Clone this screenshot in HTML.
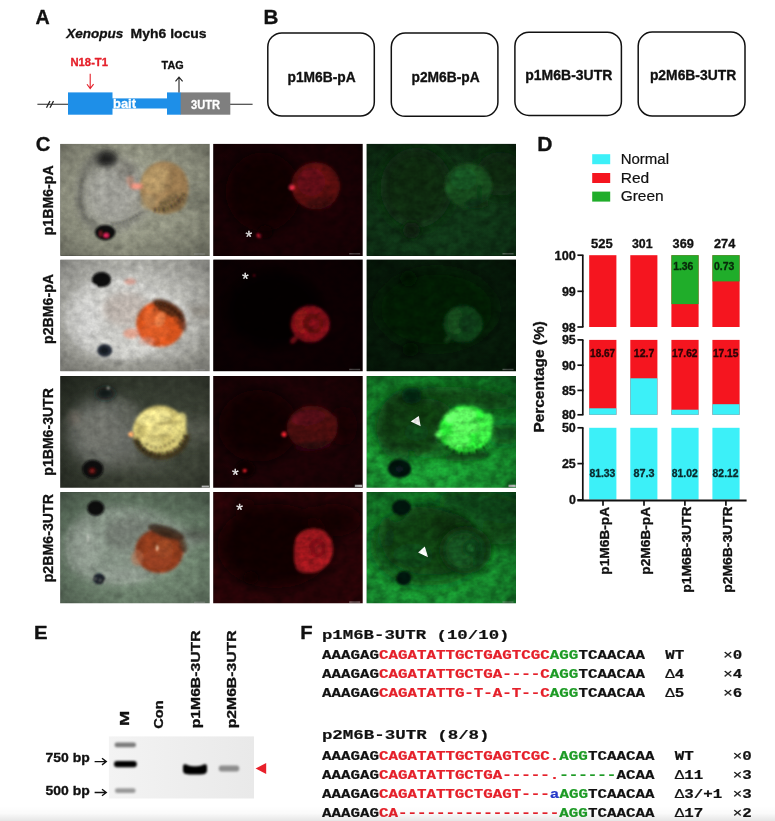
<!DOCTYPE html>
<html lang="en">
<head>
<meta charset="utf-8">
<title>Figure</title>
<style>
html,body{margin:0;padding:0;background:#fff;}
body{width:775px;height:821px;overflow:hidden;position:relative;font-family:"Liberation Sans",sans-serif;}
svg{position:absolute;left:0;top:0;display:block;}
text{font-family:"Liberation Sans",sans-serif;color:#111;fill:currentColor;stroke:currentColor;stroke-width:0.32px;stroke-linejoin:round;}
.b{font-weight:bold;}
.n{font-weight:normal;stroke-width:0.2px;}
.dv{font-family:"DejaVu Sans","Liberation Sans",sans-serif;font-weight:bold;}
.mono{font-family:"Liberation Mono",monospace;font-weight:bold;stroke-width:0.2px;}
tspan{fill:currentColor;stroke:currentColor;}
.r{color:#e5202a;}
.g{color:#1d9b25;}
.bl{color:#2438c8;}
</style>
</head>
<body>
<svg id="fig" width="775" height="821" viewBox="0 0 775 821">
<defs>
<linearGradient id="gelbg" x1="0" y1="0" x2="1" y2="0"><stop offset="0" stop-color="#f3f3f3"/><stop offset="0.5" stop-color="#eeeeee"/><stop offset="1" stop-color="#e9e9e9"/></linearGradient>
<filter id="bl1" x="-20%" y="-50%" width="140%" height="200%"><feGaussianBlur stdDeviation="0.9"/></filter>
<!--PDEFS-->
<clipPath id="pc0"><rect x="0" y="0" width="149.5" height="112.1"/></clipPath>
<clipPath id="pc1"><rect x="0" y="0" width="149.5" height="111.8"/></clipPath>
<clipPath id="pc2"><rect x="0" y="0" width="149.5" height="111.6"/></clipPath>
<clipPath id="pc3"><rect x="0" y="0" width="149.5" height="111.1"/></clipPath>
<radialGradient id="vig" cx="0.5" cy="0.5" r="0.72"><stop offset="0.45" stop-color="#000" stop-opacity="0"/><stop offset="0.75" stop-color="#000" stop-opacity="0.14"/><stop offset="1" stop-color="#000" stop-opacity="0.36"/></radialGradient>
<clipPath id="pc"><rect x="0" y="0" width="149.5" height="111.8"/></clipPath>
<filter id="grainA" filterUnits="userSpaceOnUse" x="0" y="0" width="150" height="113" color-interpolation-filters="sRGB"><feTurbulence type="fractalNoise" baseFrequency="0.13 0.15" numOctaves="3" seed="7" result="n"/><feColorMatrix in="n" type="matrix" values="0.6 0.6 0 0 -0.1  0.6 0.6 0 0 -0.1  0.6 0.6 0 0 -0.1  0 0 0 0 1" result="g"/><feComposite in="SourceGraphic" in2="g" operator="arithmetic" k1="0.4" k2="0.8" k3="0" k4="0"/></filter>
<filter id="grainB" filterUnits="userSpaceOnUse" x="0" y="0" width="150" height="113" color-interpolation-filters="sRGB"><feTurbulence type="fractalNoise" baseFrequency="0.1 0.12" numOctaves="3" seed="11" result="n"/><feColorMatrix in="n" type="matrix" values="0.6 0.6 0 0 -0.1  0.6 0.6 0 0 -0.1  0.6 0.6 0 0 -0.1  0 0 0 0 1" result="g"/><feComposite in="SourceGraphic" in2="g" operator="arithmetic" k1="0.9" k2="0.55" k3="0" k4="0"/></filter>
<filter id="b1" filterUnits="userSpaceOnUse" x="-30" y="-30" width="210" height="172"><feGaussianBlur stdDeviation="0.8"/></filter>
<filter id="b2" filterUnits="userSpaceOnUse" x="-30" y="-30" width="210" height="172"><feGaussianBlur stdDeviation="1.8"/></filter>
<filter id="b3" filterUnits="userSpaceOnUse" x="-30" y="-30" width="210" height="172"><feGaussianBlur stdDeviation="3"/></filter>
<filter id="b4" filterUnits="userSpaceOnUse" x="-30" y="-30" width="210" height="172"><feGaussianBlur stdDeviation="4"/></filter>
<filter id="b6" filterUnits="userSpaceOnUse" x="-40" y="-40" width="230" height="192"><feGaussianBlur stdDeviation="7"/></filter>
<linearGradient id="bg00" x1="0" y1="0" x2="1" y2="1"><stop offset="0" stop-color="#9b9c8a"/><stop offset="0.5" stop-color="#969886"/><stop offset="1" stop-color="#8e907e"/></linearGradient>
<linearGradient id="bg02" x1="0" y1="0" x2="0" y2="1"><stop offset="0" stop-color="#0d2c12"/><stop offset="1" stop-color="#103818"/></linearGradient>
<linearGradient id="bg10" x1="0" y1="0" x2="0.3" y2="1"><stop offset="0" stop-color="#b9b9b3"/><stop offset="1" stop-color="#a8a8a0"/></linearGradient>
<linearGradient id="bg20" x1="0" y1="0" x2="1" y2="0.6"><stop offset="0" stop-color="#2b3127"/><stop offset="1" stop-color="#41473a"/></linearGradient>
<linearGradient id="bg22" x1="0.8" y1="0" x2="0.2" y2="1"><stop offset="0" stop-color="#127426"/><stop offset="0.5" stop-color="#17922e"/><stop offset="1" stop-color="#1da838"/></linearGradient>
<linearGradient id="bg30" x1="0" y1="0" x2="0.6" y2="1"><stop offset="0" stop-color="#5e725f"/><stop offset="1" stop-color="#748a74"/></linearGradient>
<linearGradient id="bg32" x1="0.8" y1="0" x2="0.2" y2="1"><stop offset="0" stop-color="#106822"/><stop offset="0.5" stop-color="#16882c"/><stop offset="1" stop-color="#1ba036"/></linearGradient>
<!--/PDEFS-->
<linearGradient id="botfade" x1="0" y1="0" x2="0" y2="1"><stop offset="0" stop-color="#000" stop-opacity="0"/><stop offset="0.5" stop-color="#000" stop-opacity="0.02"/><stop offset="1" stop-color="#000" stop-opacity="0.1"/></linearGradient>
<!--DEFS-->
</defs>
<rect x="0" y="0" width="775" height="821" fill="#fff"/>

<!-- ===== Panel A ===== -->
<g id="panelA">
<text x="35.6" y="23.8" class="b" font-size="19.6" textLength="14.2" lengthAdjust="spacingAndGlyphs">A</text>
<text x="66.3" y="38.2" class="b" font-size="13.4" font-style="italic" textLength="57" lengthAdjust="spacingAndGlyphs">Xenopus</text>
<text x="130.6" y="38.2" class="b" font-size="13.4" textLength="76" lengthAdjust="spacingAndGlyphs">Myh6 locus</text>
<text x="70.5" y="65.7" class="b" font-size="11.2" textLength="37.5" lengthAdjust="spacingAndGlyphs" style="color:#e5202a">N18-T1</text>
<text x="161.6" y="69" class="b" font-size="11.6" textLength="22" lengthAdjust="spacingAndGlyphs">TAG</text>
<line x1="37.4" y1="104.3" x2="252.6" y2="104.3" stroke="#222" stroke-width="1.1"/>
<line x1="46.5" y1="107.8" x2="50" y2="101" stroke="#222" stroke-width="1.3"/>
<line x1="50" y1="107.8" x2="53.5" y2="101" stroke="#222" stroke-width="1.3"/>
<rect x="68" y="92.4" width="44.5" height="22.3" fill="#1e8fe8"/>
<rect x="112" y="98.4" width="55.5" height="10.1" fill="#1e8fe8"/>
<rect x="167" y="92.4" width="14" height="22.3" fill="#1e8fe8"/>
<rect x="180.7" y="92.4" width="49.6" height="22.3" fill="#7f7f7f"/>
<text x="113" y="107.6" class="b" font-size="12" textLength="23" lengthAdjust="spacingAndGlyphs" style="color:#fff">bait</text>
<text x="191" y="108.5" class="b" font-size="12.5" textLength="29" lengthAdjust="spacingAndGlyphs" style="color:#fff">3UTR</text>
<path d="M90.2 73.7 V88.2 M87 84.2 L90.2 88.6 L93.6 84.2" fill="none" stroke="#e5202a" stroke-width="1.1"/>
<path d="M179 92.4 V77.6 M175.5 81.4 L179 77.2 L182.6 81.4" fill="none" stroke="#222" stroke-width="1.1"/>
</g>

<!-- ===== Panel B ===== -->
<g id="panelB">
<text x="263.4" y="23.9" class="b" font-size="19.6" textLength="14.9" lengthAdjust="spacingAndGlyphs">B</text>
<rect x="267.8" y="32.9" width="106.5" height="83.1" rx="14" ry="14" fill="#fff" stroke="#111" stroke-width="1.5"/>
<rect x="391.3" y="33.1" width="106.6" height="83.2" rx="14" ry="14" fill="#fff" stroke="#111" stroke-width="1.5"/>
<rect x="514.9" y="32.2" width="106.5" height="83.2" rx="14" ry="14" fill="#fff" stroke="#111" stroke-width="1.5"/>
<rect x="638.2" y="32.1" width="106.8" height="83.9" rx="14" ry="14" fill="#fff" stroke="#111" stroke-width="1.5"/>
<text x="287.5" y="81.6" class="b" font-size="13.8" textLength="68.2" lengthAdjust="spacingAndGlyphs">p1M6B-pA</text>
<text x="411.5" y="81.6" class="b" font-size="13.8" textLength="68.2" lengthAdjust="spacingAndGlyphs">p2M6B-pA</text>
<text x="525.3" y="80.3" class="b" font-size="13.8" textLength="87" lengthAdjust="spacingAndGlyphs">p1M6B-3UTR</text>
<text x="649.9" y="80.3" class="b" font-size="13.8" textLength="86.3" lengthAdjust="spacingAndGlyphs">p2M6B-3UTR</text>
</g>

<!-- ===== Panel C ===== -->
<g id="panelC">
<text x="35.7" y="150.5" class="b" font-size="19.6" textLength="14.7" lengthAdjust="spacingAndGlyphs">C</text>
<!--PHOTOS-->
<g transform="translate(60.2 143.8)" clip-path="url(#pc0)"><g filter="url(#grainA)"><rect width="150" height="112" fill="url(#bg00)"/>
<g filter="url(#b6)"><ellipse cx="54" cy="50" rx="33" ry="35" fill="#a3a39d" opacity="0.8"/><ellipse cx="136" cy="57" rx="24" ry="7" fill="#6c6e60" opacity="0.95"/><ellipse cx="120" cy="100" rx="40" ry="14" fill="#8a8c7a" opacity="0.5"/></g>
<g filter="url(#b3)"><ellipse cx="46" cy="15" rx="11.5" ry="8.5" fill="#1c1e1e" opacity="0.95"/><ellipse cx="66" cy="27" rx="10" ry="10" fill="#6c6b64" opacity="0.6"/><ellipse cx="80" cy="62" rx="12" ry="10" fill="#96948a" opacity="0.5"/><path d="M38 10 C22 22 16 50 22 70 C26 80 34 84 42 86" fill="none" stroke="#5c5c58" stroke-width="5.5" opacity="0.8"/><path d="M50 84 C62 82 74 76 82 70" fill="none" stroke="#7c7c76" stroke-width="4.5" opacity="0.75"/></g>
<g filter="url(#b2)"><ellipse cx="104" cy="44" rx="24.5" ry="26.5" fill="#a6865a"/><ellipse cx="97" cy="36" rx="15" ry="13" fill="#b89a68" opacity="0.8"/><ellipse cx="116" cy="46" rx="12" ry="22" fill="#8e7048" opacity="0.55"/><ellipse cx="112" cy="60" rx="15" ry="9" fill="#7c6844" opacity="0.7" transform="rotate(-20 112 60)"/><ellipse cx="88" cy="58" rx="8" ry="8" fill="#9c8860" opacity="0.6"/><ellipse cx="76" cy="42.5" rx="6.5" ry="3.2" fill="#ee8f7c" opacity="0.95"/><ellipse cx="70" cy="37" rx="4" ry="5" fill="#c98a74" opacity="0.6"/></g>
<g filter="url(#b1)"><ellipse cx="45" cy="88.8" rx="10.3" ry="7.8" fill="#0b0f0d"/><ellipse cx="46" cy="91.5" rx="2.4" ry="2" fill="#ff2a6a"/><ellipse cx="40.5" cy="90" rx="1.4" ry="3" fill="#a02030" opacity="0.8"/><path d="M22 36 C18 50 20 66 27 76" fill="none" stroke="#32322e" stroke-width="1.8" stroke-dasharray="1.2 2.6" opacity="0.75"/><path d="M52 80 C62 80 74 74 82 68" fill="none" stroke="#282824" stroke-width="2.2" stroke-dasharray="1.4 2.2" opacity="0.8"/><path d="M56 84 C64 83 72 79 78 74" fill="none" stroke="#30302c" stroke-width="1.4" stroke-dasharray="1 2.8" opacity="0.6"/><path d="M94 66 C104 68 116 62 124 50" fill="none" stroke="#241e14" stroke-width="4" stroke-dasharray="2 2.4 1.2 3" opacity="0.8"/><path d="M100 60 C108 60 114 56 118 50" fill="none" stroke="#2a2418" stroke-width="2.4" stroke-dasharray="1.4 3" opacity="0.6"/><path d="M68 26 C72 30 72 38 70 44" fill="none" stroke="#3a3a36" stroke-width="1.4" stroke-dasharray="1 2.4" opacity="0.6"/></g>
<rect x="134" y="109.5" width="11" height="1.4" fill="#ccc" opacity="0.45"/><rect width="150" height="112" fill="url(#vig)"/></g></g>
<g transform="translate(213.2 143.8)" clip-path="url(#pc0)"><g filter="url(#grainB)"><rect width="150" height="112" fill="#190104"/>
<g filter="url(#b6)"><ellipse cx="50" cy="48" rx="38" ry="40" fill="#080001" opacity="0.9"/></g>
<g filter="url(#b2)"><ellipse cx="102.5" cy="42" rx="24.5" ry="23.5" fill="#560b11"/><ellipse cx="98" cy="38" rx="14" ry="14" fill="#6a0f16" opacity="0.55"/><ellipse cx="106" cy="60" rx="13" ry="6" fill="#3a080c" opacity="0.75"/><ellipse cx="114" cy="50" rx="3" ry="8" fill="#4a0a10" opacity="0.6"/></g>
<g filter="url(#b1)"><ellipse cx="78.4" cy="43.4" rx="3" ry="2.8" fill="#c8283c"/><ellipse cx="46" cy="91.6" rx="2.6" ry="2.2" fill="#ea2038"/><ellipse cx="52" cy="88" rx="8" ry="7" fill="#0a0103" opacity="0.7"/><path d="M98 62 C106 64 114 60 120 52" fill="none" stroke="#1c0406" stroke-width="3" stroke-dasharray="1.6 2.6" opacity="0.8"/></g>
<text x="35.5" y="99.4" font-size="17" text-anchor="middle" style="color:#f4f4f4">*</text>
<rect x="136" y="109.3" width="11" height="1.4" fill="#ccc" opacity="0.45"/><rect width="150" height="112" fill="url(#vig)"/></g></g>
<g transform="translate(366.5 143.8)" clip-path="url(#pc0)"><g filter="url(#grainB)"><rect width="150" height="112" fill="url(#bg02)"/>
<g filter="url(#b6)"><ellipse cx="50" cy="44" rx="36" ry="40" fill="#0c2a12" opacity="0.9"/><ellipse cx="134" cy="30" rx="24" ry="22" fill="#0c2c12" opacity="0.8"/></g>
<g filter="url(#b2)"><ellipse cx="102" cy="41.5" rx="24" ry="22" fill="#144a1e"/><ellipse cx="97" cy="35" rx="13" ry="11" fill="#195a26" opacity="0.6"/><ellipse cx="110" cy="60" rx="12" ry="5" fill="#0c2c12" opacity="0.8"/><ellipse cx="113" cy="48" rx="2.5" ry="8" fill="#0f3a16" opacity="0.6"/><path d="M98 60 C106 62 114 58 120 50" fill="none" stroke="#0a2410" stroke-width="3" stroke-dasharray="1.6 2.6" opacity="0.8"/></g>
<g filter="url(#b3)"><ellipse cx="45" cy="86.5" rx="9" ry="8" fill="#0a1a0c" opacity="0.95"/></g>
<rect x="136" y="109.3" width="11" height="1.4" fill="#ccc" opacity="0.45"/><rect width="150" height="112" fill="url(#vig)"/></g></g>
<g transform="translate(60.2 259.5)" clip-path="url(#pc1)"><g filter="url(#grainA)"><rect width="150" height="112" fill="url(#bg10)"/>
<g filter="url(#b4)"><ellipse cx="75" cy="58" rx="74" ry="50" fill="#c4c4c0" opacity="0.5"/><ellipse cx="138" cy="52" rx="16" ry="5" fill="#8a8378" opacity="0.9"/><ellipse cx="70" cy="108" rx="70" ry="7" fill="#98988f" opacity="0.6"/></g>
<g filter="url(#b2)"><path d="M4 58 C4 36 26 18 56 17 C84 17 108 32 124 46 L132 54 L124 66 C110 84 90 100 60 100 C30 100 4 84 4 58Z" fill="#cbcbc7" opacity="0.9"/></g>
<g filter="url(#b3)"><ellipse cx="66" cy="50" rx="24" ry="17" fill="#b8aea6" opacity="0.75"/><ellipse cx="28" cy="60" rx="15" ry="25" fill="#d6d6d3" opacity="0.6"/><ellipse cx="60" cy="86" rx="26" ry="8" fill="#d2d2ce" opacity="0.5"/></g>
<g filter="url(#b2)"><ellipse cx="100" cy="64.5" rx="24" ry="23" fill="#d2511e"/><ellipse cx="95" cy="72" rx="14" ry="10" fill="#e2602a" opacity="0.7"/><ellipse cx="92" cy="58" rx="9" ry="10" fill="#dc6834" opacity="0.6"/><ellipse cx="108" cy="49" rx="17" ry="6.5" fill="#4a2818" opacity="0.85" transform="rotate(27 108 49)"/><ellipse cx="122" cy="62" rx="4" ry="10" fill="#5a2c1a" opacity="0.7" transform="rotate(-15 122 62)"/><ellipse cx="71" cy="74" rx="8" ry="5" fill="#e89a80" opacity="0.75"/><ellipse cx="70" cy="22" rx="6" ry="3" fill="#e8a090" opacity="0.8"/><ellipse cx="86" cy="82" rx="8" ry="4" fill="#e8b0a0" opacity="0.5"/></g>
<g filter="url(#b1)"><ellipse cx="41.3" cy="20.2" rx="9.6" ry="7.6" fill="#080808"/><ellipse cx="44.5" cy="91" rx="7.5" ry="6.5" fill="#2a323c"/><ellipse cx="44" cy="91" rx="4" ry="3.5" fill="#141a24"/><ellipse cx="100" cy="60" rx="5" ry="8" fill="#f09058" opacity="0.6" transform="rotate(20 100 60)"/><ellipse cx="33" cy="27" rx="3" ry="2" fill="#f4f4f2" opacity="0.8"/><path d="M96 44 C106 44 118 52 123 62" fill="none" stroke="#141010" stroke-width="2.6" stroke-dasharray="1.6 2.4" opacity="0.85"/><path d="M94 50 C102 49 112 55 118 64" fill="none" stroke="#1c1412" stroke-width="1.8" stroke-dasharray="1.2 3.4" opacity="0.7"/><path d="M10 42 C6 54 6 68 12 80" fill="none" stroke="#f2f2ee" stroke-width="2" stroke-dasharray="2 3 1 4" opacity="0.7"/><path d="M30 36 C28 48 30 70 36 82" fill="none" stroke="#ecece8" stroke-width="1.6" stroke-dasharray="1.5 4 2.5 3" opacity="0.65"/><path d="M52 21 C66 17 86 22 98 32" fill="none" stroke="#7a7a74" stroke-width="1.4" stroke-dasharray="1.4 2.2" opacity="0.6"/><path d="M52 97 C70 99 90 93 104 85" fill="none" stroke="#eeeeea" stroke-width="1.4" stroke-dasharray="2 3" opacity="0.6"/></g>
<rect x="134" y="109.5" width="11" height="1.4" fill="#ccc" opacity="0.45"/><rect width="150" height="112" fill="url(#vig)"/></g></g>
<g transform="translate(213.2 259.5)" clip-path="url(#pc1)"><g filter="url(#grainB)"><rect width="150" height="112" fill="#0d0002"/>
<g filter="url(#b6)"><ellipse cx="60" cy="50" rx="50" ry="40" fill="#060001" opacity="0.8"/></g>
<g filter="url(#b2)"><ellipse cx="97" cy="64.5" rx="19.5" ry="18.5" fill="#7e0f15"/><ellipse cx="89" cy="62" rx="8" ry="12" fill="#96141a" opacity="0.6"/><ellipse cx="100" cy="64" rx="10.5" ry="10" fill="#560a0f" opacity="0.85"/><ellipse cx="101" cy="64" rx="5.5" ry="5.5" fill="#7c0e14" opacity="0.85"/><ellipse cx="80.5" cy="80.5" rx="4" ry="2.6" fill="#8a1016" opacity="0.9" transform="rotate(-40 80.5 80.5)"/></g>
<g filter="url(#b1)"><ellipse cx="41" cy="16" rx="0.9" ry="0.9" fill="#c01828"/></g>
<text x="32" y="25.6" font-size="17" text-anchor="middle" style="color:#f4f4f4">*</text>
<rect x="136" y="109.3" width="11" height="1.4" fill="#ccc" opacity="0.45"/><rect width="150" height="112" fill="url(#vig)"/></g></g>
<g transform="translate(366.5 259.5)" clip-path="url(#pc1)"><g filter="url(#grainB)"><rect width="150" height="112" fill="#061a09"/>
<g filter="url(#b6)"><ellipse cx="70" cy="50" rx="60" ry="40" fill="#061808" opacity="0.7"/></g>
<g filter="url(#b2)"><ellipse cx="96.5" cy="64.5" rx="19.5" ry="18.5" fill="#103c17"/><ellipse cx="89" cy="62" rx="8" ry="13" fill="#175221" opacity="0.7"/><ellipse cx="101" cy="64" rx="9" ry="9" fill="#0d3213" opacity="0.7"/><ellipse cx="81" cy="80" rx="3.5" ry="2.4" fill="#16501e" opacity="0.8" transform="rotate(-40 81 80)"/></g>
<g filter="url(#b3)"><ellipse cx="42" cy="19" rx="8.5" ry="7.5" fill="#031006" opacity="0.9"/><ellipse cx="44" cy="90" rx="8" ry="7" fill="#031006" opacity="0.9"/></g>
<rect x="136" y="109.3" width="11" height="1.4" fill="#ccc" opacity="0.45"/><rect width="150" height="112" fill="url(#vig)"/></g></g>
<g transform="translate(60.2 376.1)" clip-path="url(#pc2)"><g filter="url(#grainA)"><rect width="150" height="112" fill="url(#bg20)"/>
<g filter="url(#b6)"><ellipse cx="46" cy="57" rx="40" ry="36" fill="#6c6e68" opacity="0.9"/><ellipse cx="136" cy="54" rx="24" ry="11" fill="#5c6054" opacity="0.9"/><ellipse cx="80" cy="86" rx="30" ry="8" fill="#60625a" opacity="0.6"/></g>
<g filter="url(#b3)"><ellipse cx="45" cy="17.5" rx="10" ry="6.5" fill="#121517" opacity="0.95"/><ellipse cx="14" cy="42" rx="6" ry="7" fill="#857a70" opacity="0.6"/><ellipse cx="40" cy="56" rx="22" ry="20" fill="#767872" opacity="0.6"/><ellipse cx="68" cy="40" rx="10" ry="14" fill="#5a5c54" opacity="0.5"/></g>
<g filter="url(#b2)"><ellipse cx="99.5" cy="55.5" rx="27" ry="26" fill="#cec070"/><ellipse cx="94" cy="41.5" rx="17" ry="8" fill="#ebe08e" opacity="0.95" transform="rotate(-8 94 41.5)"/><ellipse cx="102" cy="53" rx="16" ry="6.5" fill="#e6da88" opacity="0.85" transform="rotate(-5 102 53)"/><ellipse cx="119" cy="51" rx="6.5" ry="15" fill="#e2d680" opacity="0.85" transform="rotate(15 119 51)"/><ellipse cx="91" cy="66" rx="11" ry="8" fill="#dccf82" opacity="0.8"/><ellipse cx="108" cy="46.5" rx="14" ry="1.6" fill="#9a8c50" opacity="0.7" transform="rotate(-6 108 46.5)"/><ellipse cx="100" cy="60" rx="14" ry="1.6" fill="#9a8c50" opacity="0.6" transform="rotate(-4 100 60)"/><path d="M75 62 C80 78 100 86 116 76 C122 72 126 66 127 58" fill="none" stroke="#3c3018" stroke-width="6" opacity="0.9"/></g>
<g filter="url(#b1)"><ellipse cx="32.6" cy="93" rx="10.6" ry="9.4" fill="#090a09"/><ellipse cx="32" cy="94.6" rx="1.7" ry="1.5" fill="#ff4a48"/><ellipse cx="32" cy="94.6" rx="4" ry="3.5" fill="#5a1010" opacity="0.6"/><ellipse cx="70.8" cy="58.3" rx="2.6" ry="2.6" fill="#f4a868"/><ellipse cx="48" cy="12" rx="1.5" ry="1.5" fill="#d8d8d0" opacity="0.7"/><path d="M78 66 C84 78 100 82 114 74 C120 70 124 64 125 58" fill="none" stroke="#15110a" stroke-width="3.4" stroke-dasharray="2 2.2 1.2 2.8" opacity="0.85"/><path d="M86 68 C94 74 106 72 116 62" fill="none" stroke="#1c160c" stroke-width="2" stroke-dasharray="1.4 3.4" opacity="0.7"/></g>
<rect x="141.5" y="109.5" width="7.2" height="1.8" fill="#f4f4f4"/><rect width="150" height="112" fill="url(#vig)"/></g></g>
<g transform="translate(213.2 376.1)" clip-path="url(#pc2)"><g filter="url(#grainB)"><rect width="150" height="112" fill="#1c0205"/>
<g filter="url(#b6)"><ellipse cx="45" cy="50" rx="40" ry="36" fill="#0e0103" opacity="0.9"/><ellipse cx="40" cy="18" rx="9" ry="7" fill="#080102" opacity="0.8"/><ellipse cx="130" cy="50" rx="14" ry="20" fill="#120203" opacity="0.6"/></g>
<g filter="url(#b2)"><ellipse cx="99" cy="51.5" rx="25.5" ry="22" fill="#440a0f"/><ellipse cx="95" cy="41.5" rx="17" ry="8" fill="#580e16" opacity="0.8" transform="rotate(-6 95 41.5)"/><ellipse cx="104" cy="51" rx="14" ry="5" fill="#500c13" opacity="0.6" transform="rotate(-4 104 51)"/><ellipse cx="118" cy="52" rx="6" ry="13" fill="#520d13" opacity="0.6" transform="rotate(14 118 52)"/><ellipse cx="100" cy="70" rx="18" ry="5" fill="#2a060a" opacity="0.8" transform="rotate(-6 100 70)"/><ellipse cx="32" cy="93" rx="10" ry="9" fill="#0c0203" opacity="0.9"/></g>
<g filter="url(#b1)"><ellipse cx="70.8" cy="58.2" rx="2.4" ry="2.8" fill="#e8222e"/><ellipse cx="31.6" cy="94.5" rx="2.1" ry="1.9" fill="#d51a28"/><path d="M84 68 C94 74 108 72 118 62" fill="none" stroke="#140305" stroke-width="2.4" stroke-dasharray="1.6 2.6" opacity="0.8"/></g>
<text x="22" y="104.6" font-size="17" text-anchor="middle" style="color:#f4f4f4">*</text>
<rect x="141.6" y="108.6" width="7.4" height="2.4" fill="#f4f4f4"/><rect width="150" height="112" fill="url(#vig)"/></g></g>
<g transform="translate(366.5 376.1)" clip-path="url(#pc2)"><g filter="url(#grainB)"><rect width="150" height="112" fill="url(#bg22)"/>
<g filter="url(#b6)"><ellipse cx="104" cy="22" rx="52" ry="10" fill="#0a3612" opacity="0.9" transform="rotate(6 104 22)"/><ellipse cx="138" cy="58" rx="18" ry="10" fill="#0d4016" opacity="0.85"/><ellipse cx="46" cy="48" rx="38" ry="32" fill="#0d4016" opacity="0.9"/></g>
<g filter="url(#b4)"><path d="M38 16 C18 24 10 48 17 68 C22 78 32 82 42 80" fill="none" stroke="#0a3211" stroke-width="9" opacity="0.7"/><ellipse cx="44" cy="48" rx="30" ry="27" fill="#0a3a12" opacity="0.8"/><ellipse cx="64" cy="34" rx="22" ry="11" fill="#0b3813" opacity="0.8" transform="rotate(10 64 34)"/><ellipse cx="70" cy="74" rx="22" ry="7" fill="#0e4619" opacity="0.6" transform="rotate(-8 70 74)"/><ellipse cx="50" cy="56" rx="12" ry="9" fill="#14601f" opacity="0.4"/></g>
<g filter="url(#b3)"><ellipse cx="45.4" cy="19.6" rx="10.5" ry="8.5" fill="#05200a" opacity="0.95"/><ellipse cx="100" cy="80" rx="24" ry="5" fill="#0a3010" opacity="0.8" transform="rotate(-5 100 80)"/></g>
<g filter="url(#b2)"><ellipse cx="99" cy="53.5" rx="26.5" ry="24" fill="#2adc36"/><ellipse cx="94" cy="40" rx="16" ry="7.5" fill="#66ff68" opacity="0.95" transform="rotate(-8 94 40)"/><ellipse cx="101" cy="51" rx="16" ry="7" fill="#60fc62" opacity="0.9" transform="rotate(-5 101 51)"/><ellipse cx="119" cy="52" rx="7" ry="15" fill="#44ee48" opacity="0.9" transform="rotate(15 119 52)"/><ellipse cx="92" cy="64" rx="12" ry="8" fill="#58f85a" opacity="0.85"/><ellipse cx="72" cy="58.4" rx="3.2" ry="3.4" fill="#5cf45e"/><ellipse cx="109" cy="45.8" rx="12" ry="1.4" fill="#2cae34" opacity="0.7" transform="rotate(-6 109 45.8)"/></g>
<g filter="url(#b1)"><ellipse cx="33" cy="92.5" rx="11.6" ry="9.5" fill="#04140a"/><ellipse cx="33" cy="93" rx="4" ry="3" fill="#0a1c2c" opacity="0.7"/><path d="M80 70 C90 80 108 80 122 68" fill="none" stroke="#041a08" stroke-width="4" stroke-dasharray="2.4 1.8 1.2 2.4" opacity="0.9"/><path d="M88 70 C96 75 108 73 116 64" fill="none" stroke="#062008" stroke-width="2.2" stroke-dasharray="1.4 3.2" opacity="0.75"/></g>
<path d="M44.2 45.4 L52.3 40 L54.2 50.2Z" fill="#fff"/>
<rect x="142" y="108.6" width="7.2" height="2.4" fill="#f4f4f4"/><rect width="150" height="112" fill="url(#vig)"/></g></g>
<g transform="translate(60.2 492.1)" clip-path="url(#pc3)"><g filter="url(#grainA)"><rect width="150" height="112" fill="url(#bg30)"/>
<g filter="url(#b4)"><path d="M3 56 C3 28 32 11 64 14 C94 17 116 32 132 40 L148 40 L148 50 L130 54 C118 74 98 93 60 93 C26 93 3 82 3 56Z" fill="#98a098" opacity="0.62"/><ellipse cx="136" cy="43" rx="18" ry="4.5" fill="#4a4e46" opacity="0.9" transform="rotate(3 136 43)"/><ellipse cx="120" cy="10" rx="40" ry="12" fill="#5c6e5c" opacity="0.6"/></g>
<g filter="url(#b3)"><ellipse cx="70" cy="42" rx="26" ry="17" fill="#6c726a" opacity="0.65"/><ellipse cx="26" cy="56" rx="14" ry="24" fill="#a2aaa2" opacity="0.45"/><ellipse cx="60" cy="84" rx="24" ry="7" fill="#9aa29a" opacity="0.4"/></g>
<g filter="url(#b2)"><ellipse cx="99" cy="59" rx="24" ry="22" fill="#8e3a1c"/><ellipse cx="98" cy="66" rx="14" ry="11" fill="#9c4424" opacity="0.7"/><ellipse cx="104" cy="56" rx="9" ry="10" fill="#a04e2a" opacity="0.5"/><ellipse cx="106" cy="40" rx="19" ry="6" fill="#382a20" opacity="0.9" transform="rotate(18 106 40)"/><ellipse cx="122" cy="52" rx="4" ry="10" fill="#4a2c1c" opacity="0.7" transform="rotate(-20 122 52)"/><ellipse cx="77" cy="66" rx="6" ry="8" fill="#b07050" opacity="0.6"/></g>
<g filter="url(#b1)"><ellipse cx="35.5" cy="16" rx="8.6" ry="7.6" fill="#0a0a0c"/><ellipse cx="38.8" cy="86.7" rx="6" ry="5.5" fill="#1e222a"/><ellipse cx="97" cy="56" rx="1.2" ry="3" fill="#f0d0b0" opacity="0.9"/><ellipse cx="28" cy="46" rx="1" ry="4" fill="#e8e8e0" opacity="0.7"/><path d="M10 36 C5 48 6 66 14 78" fill="none" stroke="#dfe4dc" stroke-width="1.6" stroke-dasharray="2 3 1 4" opacity="0.6"/><path d="M48 14 C66 10 88 18 104 32" fill="none" stroke="#4a5248" stroke-width="1.6" stroke-dasharray="1.6 2" opacity="0.65"/><path d="M30 84 C44 92 70 94 88 84" fill="none" stroke="#cfd6cc" stroke-width="1.4" stroke-dasharray="2 3" opacity="0.5"/></g>
<rect x="134" y="109.5" width="11" height="1.4" fill="#ccc" opacity="0.45"/><rect width="150" height="112" fill="url(#vig)"/></g></g>
<g transform="translate(213.2 492.1)" clip-path="url(#pc3)"><g filter="url(#grainB)"><rect width="150" height="112" fill="#260306"/>
<g filter="url(#b6)"><ellipse cx="62" cy="54" rx="58" ry="42" fill="#100103" opacity="0.92"/><ellipse cx="120" cy="28" rx="28" ry="16" fill="#140204" opacity="0.8"/><ellipse cx="32" cy="14" rx="10" ry="8" fill="#0a0102" opacity="0.8"/></g>
<g filter="url(#b2)"><path d="M82 50 C84 38 98 34 108 38 C118 42 122 54 119 64 C116 74 106 82 94 81 C90 81 86 80 84 78 C80 70 80 58 82 50Z" fill="#9a151d"/><ellipse cx="104" cy="56" rx="8.5" ry="9.5" fill="#6e0e14" opacity="0.75"/><ellipse cx="105" cy="57" rx="4" ry="5" fill="#94141b" opacity="0.8"/><ellipse cx="92" cy="62" rx="6" ry="10" fill="#a8181f" opacity="0.5"/><ellipse cx="37.8" cy="85.7" rx="7.5" ry="6.5" fill="#0e0204" opacity="0.8"/></g>
<text x="26.4" y="24.1" font-size="17" text-anchor="middle" style="color:#f4f4f4">*</text>
<rect x="136" y="109.3" width="11" height="1.4" fill="#ccc" opacity="0.45"/></g></g>
<g transform="translate(366.5 492.1)" clip-path="url(#pc3)"><g filter="url(#grainB)"><rect width="150" height="112" fill="url(#bg32)"/>
<g filter="url(#b6)"><ellipse cx="122" cy="16" rx="50" ry="16" fill="#0a4216" opacity="0.9" transform="rotate(10 122 16)"/><ellipse cx="62" cy="54" rx="58" ry="40" fill="#0c4a1a" opacity="0.92"/><ellipse cx="134" cy="44" rx="22" ry="8" fill="#0a3412" opacity="0.9"/></g>
<g filter="url(#b4)"><ellipse cx="64" cy="52" rx="48" ry="31" fill="#0a3c14" opacity="0.8"/><ellipse cx="84" cy="34" rx="24" ry="13" fill="#093011" opacity="0.9" transform="rotate(15 84 34)"/><ellipse cx="46" cy="64" rx="20" ry="12" fill="#125c22" opacity="0.4"/><ellipse cx="20" cy="40" rx="8" ry="16" fill="#0c4016" opacity="0.6"/><ellipse cx="60" cy="20" rx="26" ry="5" fill="#0b3a14" opacity="0.7" transform="rotate(8 60 20)"/></g>
<g filter="url(#b3)"><ellipse cx="99" cy="57.8" rx="26" ry="24" fill="#0a2c11" opacity="0.95"/><ellipse cx="98" cy="58.5" rx="19" ry="18" fill="#155623"/><ellipse cx="104" cy="56" rx="8" ry="8" fill="#0c3414" opacity="0.85"/><ellipse cx="112" cy="66" rx="6" ry="8" fill="#0c3414" opacity="0.7"/></g>
<g filter="url(#b1)"><ellipse cx="35" cy="15.5" rx="9.6" ry="8" fill="#061808"/><ellipse cx="37.2" cy="86" rx="7.6" ry="7.2" fill="#061808"/><ellipse cx="104" cy="56" rx="3.6" ry="3.6" fill="#1c6a2a" opacity="0.8"/><path d="M50 14 C66 10 86 18 100 30" fill="none" stroke="#062008" stroke-width="1.8" stroke-dasharray="1.6 2.2" opacity="0.7"/><path d="M12 34 C6 46 8 66 18 78" fill="none" stroke="#0a3412" stroke-width="1.6" stroke-dasharray="1.4 2.6" opacity="0.6"/><path d="M88 48 C94 42 106 44 112 52 C116 60 110 70 100 72" fill="none" stroke="#0a2a10" stroke-width="2" stroke-dasharray="2 2.4" opacity="0.7"/></g>
<path d="M51.6 60.4 L58.3 54.5 L61.6 65.2Z" fill="#fff"/>
<rect x="136" y="109.3" width="11" height="1.4" fill="#ccc" opacity="0.45"/><rect width="150" height="112" fill="url(#vig)"/></g></g>
<text transform="translate(52.5 235.3) rotate(-90)" class="b" font-size="14.2" textLength="69.9" lengthAdjust="spacingAndGlyphs">p1BM6-pA</text>
<text transform="translate(52.5 343.9) rotate(-90)" class="b" font-size="14.2" textLength="69.9" lengthAdjust="spacingAndGlyphs">p2BM6-pA</text>
<text transform="translate(52.5 475.7) rotate(-90)" class="b" font-size="14.2" textLength="87.6" lengthAdjust="spacingAndGlyphs">p1BM6-3UTR</text>
<text transform="translate(52.5 582.3) rotate(-90)" class="b" font-size="14.2" textLength="88.2" lengthAdjust="spacingAndGlyphs">p2BM6-3UTR</text>
<!--/PHOTOS-->
</g>

<!-- ===== Panel D ===== -->
<g id="panelD">
<text x="537.2" y="150.5" class="b" font-size="19.6" textLength="15.2" lengthAdjust="spacingAndGlyphs">D</text>
<rect x="592.2" y="154.2" width="18" height="10" fill="#3cf0f8"/>
<rect x="592.2" y="173.0" width="18" height="10" fill="#f5151f"/>
<rect x="592.2" y="191.6" width="18" height="10" fill="#20ad2a"/>
<text x="620.7" y="164" class="n" font-size="14.9" textLength="48.3" lengthAdjust="spacingAndGlyphs">Normal</text>
<text x="620.7" y="182.8" class="n" font-size="14.9" textLength="28.5" lengthAdjust="spacingAndGlyphs">Red</text>
<text x="620.7" y="201.3" class="n" font-size="14.9" textLength="43" lengthAdjust="spacingAndGlyphs">Green</text>
<rect x="589.2" y="255.2" width="27.2" height="71.8" fill="#f5151f"/>
<rect x="589.2" y="339.9" width="27.2" height="74.9" fill="#f5151f"/>
<rect x="589.2" y="408.3" width="27.2" height="6.5" fill="#3cf0f8"/>
<rect x="589.2" y="427.8" width="27.2" height="71.8" fill="#3cf0f8"/>
<rect x="630.3" y="255.2" width="27.1" height="71.8" fill="#f5151f"/>
<rect x="630.3" y="339.9" width="27.1" height="74.9" fill="#f5151f"/>
<rect x="630.3" y="378.3" width="27.1" height="36.5" fill="#3cf0f8"/>
<rect x="630.3" y="427.8" width="27.1" height="71.8" fill="#3cf0f8"/>
<rect x="671.4" y="255.2" width="27.2" height="71.8" fill="#f5151f"/>
<rect x="671.4" y="255.2" width="27.2" height="48.9" fill="#20ad2a"/>
<rect x="671.4" y="339.9" width="27.2" height="74.9" fill="#f5151f"/>
<rect x="671.4" y="409.7" width="27.2" height="5.1" fill="#3cf0f8"/>
<rect x="671.4" y="427.8" width="27.2" height="71.8" fill="#3cf0f8"/>
<rect x="712.4" y="255.2" width="27.2" height="71.8" fill="#f5151f"/>
<rect x="712.4" y="255.2" width="27.2" height="26.2" fill="#20ad2a"/>
<rect x="712.4" y="339.9" width="27.2" height="74.9" fill="#f5151f"/>
<rect x="712.4" y="404.2" width="27.2" height="10.6" fill="#3cf0f8"/>
<rect x="712.4" y="427.8" width="27.2" height="71.8" fill="#3cf0f8"/>
<path d="M582.8 255.2 V327.0 M582.8 339.9 V414.8 M582.8 427.8 V500.20000000000005" stroke="#111" stroke-width="1.7" fill="none"/>
<line x1="577.4" y1="255.2" x2="583.4499999999999" y2="255.2" stroke="#111" stroke-width="1.7"/>
<text x="554.6" y="259.7" class="b" font-size="12.6" textLength="21.2" lengthAdjust="spacingAndGlyphs">100</text>
<line x1="577.4" y1="291.3" x2="583.4499999999999" y2="291.3" stroke="#111" stroke-width="1.7"/>
<text x="561.9" y="295.8" class="b" font-size="12.6" textLength="13.9" lengthAdjust="spacingAndGlyphs">99</text>
<line x1="577.4" y1="327.0" x2="583.4499999999999" y2="327.0" stroke="#111" stroke-width="1.7"/>
<text x="561.9" y="331.5" class="b" font-size="12.6" textLength="13.9" lengthAdjust="spacingAndGlyphs">98</text>
<line x1="577.4" y1="339.9" x2="583.4499999999999" y2="339.9" stroke="#111" stroke-width="1.7"/>
<text x="561.9" y="344.4" class="b" font-size="12.6" textLength="13.9" lengthAdjust="spacingAndGlyphs">95</text>
<line x1="577.4" y1="365.2" x2="583.4499999999999" y2="365.2" stroke="#111" stroke-width="1.7"/>
<text x="561.9" y="369.7" class="b" font-size="12.6" textLength="13.9" lengthAdjust="spacingAndGlyphs">90</text>
<line x1="577.4" y1="390.4" x2="583.4499999999999" y2="390.4" stroke="#111" stroke-width="1.7"/>
<text x="561.9" y="394.9" class="b" font-size="12.6" textLength="13.9" lengthAdjust="spacingAndGlyphs">85</text>
<line x1="577.4" y1="414.8" x2="583.4499999999999" y2="414.8" stroke="#111" stroke-width="1.7"/>
<text x="561.9" y="419.3" class="b" font-size="12.6" textLength="13.9" lengthAdjust="spacingAndGlyphs">80</text>
<line x1="577.4" y1="427.8" x2="583.4499999999999" y2="427.8" stroke="#111" stroke-width="1.7"/>
<text x="561.9" y="432.3" class="b" font-size="12.6" textLength="13.9" lengthAdjust="spacingAndGlyphs">50</text>
<line x1="577.4" y1="463.6" x2="583.4499999999999" y2="463.6" stroke="#111" stroke-width="1.7"/>
<text x="561.9" y="468.1" class="b" font-size="12.6" textLength="13.9" lengthAdjust="spacingAndGlyphs">25</text>
<line x1="577.4" y1="499.9" x2="583.4499999999999" y2="499.9" stroke="#111" stroke-width="1.7"/>
<text x="568.9" y="504.4" class="b" font-size="12.6" textLength="6.9" lengthAdjust="spacingAndGlyphs">0</text>
<line x1="577.4" y1="500.5" x2="746.6" y2="500.5" stroke="#111" stroke-width="1.9"/>
<line x1="603" y1="500.5" x2="603" y2="505.8" stroke="#111" stroke-width="1.7"/>
<line x1="644" y1="500.5" x2="644" y2="505.8" stroke="#111" stroke-width="1.7"/>
<line x1="684.9" y1="500.5" x2="684.9" y2="505.8" stroke="#111" stroke-width="1.7"/>
<line x1="725.9" y1="500.5" x2="725.9" y2="505.8" stroke="#111" stroke-width="1.7"/>
<text x="591" y="247.8" class="b" font-size="12.6" textLength="21.7" lengthAdjust="spacingAndGlyphs">525</text>
<text x="632" y="247.8" class="b" font-size="12.6" textLength="20.6" lengthAdjust="spacingAndGlyphs">301</text>
<text x="672.6" y="247.8" class="b" font-size="12.6" textLength="21.2" lengthAdjust="spacingAndGlyphs">369</text>
<text x="714" y="247.8" class="b" font-size="12.6" textLength="21.2" lengthAdjust="spacingAndGlyphs">274</text>
<text x="673.2" y="269.6" class="b" font-size="10.3" textLength="20.2" lengthAdjust="spacingAndGlyphs" style="color:#08280a">1.36</text>
<text x="714" y="269.6" class="b" font-size="10.3" textLength="20.3" lengthAdjust="spacingAndGlyphs" style="color:#08280a">0.73</text>
<text x="590.1" y="356.7" class="b" font-size="10.2" textLength="25" lengthAdjust="spacingAndGlyphs" style="color:#2a0406">18.67</text>
<text x="633.8" y="356.7" class="b" font-size="10.2" textLength="20.5" lengthAdjust="spacingAndGlyphs" style="color:#2a0406">12.7</text>
<text x="672.0" y="356.7" class="b" font-size="10.2" textLength="25.5" lengthAdjust="spacingAndGlyphs" style="color:#2a0406">17.62</text>
<text x="712.9" y="356.7" class="b" font-size="10.2" textLength="25.5" lengthAdjust="spacingAndGlyphs" style="color:#2a0406">17.15</text>
<text x="589.4" y="476.9" class="b" font-size="10.3" textLength="26" lengthAdjust="spacingAndGlyphs" style="color:#0a2a2e">81.33</text>
<text x="633.5" y="476.9" class="b" font-size="10.3" textLength="21" lengthAdjust="spacingAndGlyphs" style="color:#0a2a2e">87.3</text>
<text x="671.8" y="476.9" class="b" font-size="10.3" textLength="26" lengthAdjust="spacingAndGlyphs" style="color:#0a2a2e">81.02</text>
<text x="712.6" y="476.9" class="b" font-size="10.3" textLength="26" lengthAdjust="spacingAndGlyphs" style="color:#0a2a2e">82.12</text>
<text transform="translate(544.3 432.6) rotate(-90)" class="b" font-size="15.4" textLength="111.5" lengthAdjust="spacingAndGlyphs">Percentage (%)</text>
<text transform="translate(608.9 574.7) rotate(-90)" class="b" font-size="13.4" textLength="67.8" lengthAdjust="spacingAndGlyphs">p1M6B-pA</text>
<text transform="translate(650 574.7) rotate(-90)" class="b" font-size="13.4" textLength="67.8" lengthAdjust="spacingAndGlyphs">p2M6B-pA</text>
<text transform="translate(690.6 592.7) rotate(-90)" class="b" font-size="13.4" textLength="86.3" lengthAdjust="spacingAndGlyphs">p1M6B-3UTR</text>
<text transform="translate(731.7 592.7) rotate(-90)" class="b" font-size="13.4" textLength="86.3" lengthAdjust="spacingAndGlyphs">p2M6B-3UTR</text>
</g>

<!-- ===== Panel E ===== -->
<g id="panelE">
<text x="34" y="638.6" class="b" font-size="17.6" textLength="13.6" lengthAdjust="spacingAndGlyphs">E</text>
<rect x="108.9" y="736.4" width="145.1" height="62.1" fill="url(#gelbg)"/>
<g filter="url(#bl1)">
<rect x="114.6" y="742.5" width="21.4" height="4.8" rx="2.3" fill="#7a7a7a"/>
<rect x="114" y="760.9" width="22.8" height="6.4" rx="3" fill="#060606"/>
<rect x="115" y="788.3" width="20.6" height="4.6" rx="2.2" fill="#999"/>
<path d="M183 766.5 C183 763.5 186 764 188 765.2 C192 766.6 198 766.6 202 765.2 C204 764 207 763.5 207 766.5 V770.6 C207 773.6 204.5 774.4 201 774.4 H189 C185.500 774.4 183 773.6 183 770.6Z" fill="#040404"/>
<rect x="218.8" y="765.6" width="20.4" height="5.8" rx="2.6" fill="#8c8c8c"/>
</g>
<path d="M255.6 768.6 L266.2 763 V774.1 Z" fill="#e8202a"/>
<text x="45.6" y="762.3" class="b" font-size="12.3" textLength="44.2" lengthAdjust="spacingAndGlyphs">750 bp</text>
<text x="45.6" y="794.7" class="b" font-size="12.3" textLength="44.2" lengthAdjust="spacingAndGlyphs">500 bp</text>
<path d="M94.6 761.6 H106 M102 758.3 L106.3 761.6 L102 764.9" fill="none" stroke="#111" stroke-width="1.35"/>
<path d="M94.6 792.5 H106 M102 789.2 L106.3 792.5 L102 795.8" fill="none" stroke="#111" stroke-width="1.35"/>
<text transform="translate(129.2 726.1) rotate(-90)" class="b" font-size="13.6" textLength="15.3" lengthAdjust="spacingAndGlyphs">M</text>
<text transform="translate(163.1 728.7) rotate(-90)" class="b" font-size="13.6" textLength="28.4" lengthAdjust="spacingAndGlyphs">Con</text>
<text transform="translate(200.4 728.3) rotate(-90)" class="b" font-size="13.6" textLength="97.8" lengthAdjust="spacingAndGlyphs">p1M6B-3UTR</text>
<text transform="translate(235.6 728.3) rotate(-90)" class="b" font-size="13.6" textLength="97.8" lengthAdjust="spacingAndGlyphs">p2M6B-3UTR</text>
</g>

<!-- ===== Panel F ===== -->
<g id="panelF">
<text x="300.3" y="638.5" class="b" font-size="18.8" textLength="12.4" lengthAdjust="spacingAndGlyphs">F</text>
<text x="321.9" y="638.6" class="mono" font-size="13.6" textLength="187.6" lengthAdjust="spacingAndGlyphs" xml:space="preserve">p1M6B-3UTR (10/10)</text>
<text x="321.9" y="658.8" class="mono" font-size="12.2" textLength="323.0" lengthAdjust="spacingAndGlyphs" xml:space="preserve">AAAGAG<tspan class="r">CAGATATTGCTGAGTCGC</tspan><tspan class="g">AGG</tspan>TCAACAA</text>
<text x="665.3" y="658.8" class="mono" font-size="12.2" textLength="19.0" lengthAdjust="spacingAndGlyphs" xml:space="preserve">WT</text>
<text x="723.3" y="658.8" class="mono" font-size="12.2" textLength="19.0" lengthAdjust="spacingAndGlyphs" xml:space="preserve"><tspan font-weight="normal">×</tspan>0</text>
<text x="321.9" y="677.6" class="mono" font-size="12.2" textLength="323.0" lengthAdjust="spacingAndGlyphs" xml:space="preserve">AAAGAG<tspan class="r">CAGATATTGCTGA----C</tspan><tspan class="g">AGG</tspan>TCAACAA</text>
<text x="665.3" y="677.6" class="mono" font-size="12.2" textLength="19.0" lengthAdjust="spacingAndGlyphs" xml:space="preserve"><tspan font-weight="normal">Δ</tspan>4</text>
<text x="723.3" y="677.6" class="mono" font-size="12.2" textLength="19.0" lengthAdjust="spacingAndGlyphs" xml:space="preserve"><tspan font-weight="normal">×</tspan>4</text>
<text x="321.9" y="696.5" class="mono" font-size="12.2" textLength="323.0" lengthAdjust="spacingAndGlyphs" xml:space="preserve">AAAGAG<tspan class="r">CAGATATTG-T-A-T--C</tspan><tspan class="g">AGG</tspan>TCAACAA</text>
<text x="665.3" y="696.5" class="mono" font-size="12.2" textLength="19.0" lengthAdjust="spacingAndGlyphs" xml:space="preserve"><tspan font-weight="normal">Δ</tspan>5</text>
<text x="723.3" y="696.5" class="mono" font-size="12.2" textLength="19.0" lengthAdjust="spacingAndGlyphs" xml:space="preserve"><tspan font-weight="normal">×</tspan>6</text>
<text x="321.9" y="738.9" class="mono" font-size="13.6" textLength="167.7" lengthAdjust="spacingAndGlyphs" xml:space="preserve">p2M6B-3UTR (8/8)</text>
<text x="321.9" y="759.8" class="mono" font-size="12.2" textLength="332.5" lengthAdjust="spacingAndGlyphs" xml:space="preserve">AAAGAG<tspan class="r">CAGATATTGCTGAGTCGC.</tspan><tspan class="g">AGG</tspan>TCAACAA</text>
<text x="674.8" y="759.8" class="mono" font-size="12.2" textLength="19.0" lengthAdjust="spacingAndGlyphs" xml:space="preserve">WT</text>
<text x="732.8" y="759.8" class="mono" font-size="12.2" textLength="19.0" lengthAdjust="spacingAndGlyphs" xml:space="preserve"><tspan font-weight="normal">×</tspan>0</text>
<text x="321.9" y="778.85" class="mono" font-size="12.2" textLength="332.5" lengthAdjust="spacingAndGlyphs" xml:space="preserve">AAAGAG<tspan class="r">CAGATATTGCTGA-----.</tspan><tspan class="g">------</tspan>ACAA</text>
<text x="674.8" y="778.85" class="mono" font-size="12.2" textLength="28.5" lengthAdjust="spacingAndGlyphs" xml:space="preserve"><tspan font-weight="normal">Δ</tspan>11</text>
<text x="732.8" y="778.85" class="mono" font-size="12.2" textLength="19.0" lengthAdjust="spacingAndGlyphs" xml:space="preserve"><tspan font-weight="normal">×</tspan>3</text>
<text x="321.9" y="797.9" class="mono" font-size="12.2" textLength="332.5" lengthAdjust="spacingAndGlyphs" xml:space="preserve">AAAGAG<tspan class="r">CAGATATTGCTGAGT---</tspan><tspan class="bl">a</tspan><tspan class="g">AGG</tspan>TCAACAA</text>
<text x="674.8" y="797.9" class="mono" font-size="12.2" textLength="47.5" lengthAdjust="spacingAndGlyphs" xml:space="preserve"><tspan font-weight="normal">Δ</tspan>3/+1</text>
<text x="732.8" y="797.9" class="mono" font-size="12.2" textLength="19.0" lengthAdjust="spacingAndGlyphs" xml:space="preserve"><tspan font-weight="normal">×</tspan>3</text>
<text x="321.9" y="816.9" class="mono" font-size="12.2" textLength="332.5" lengthAdjust="spacingAndGlyphs" xml:space="preserve">AAAGAG<tspan class="r">CA-----------------</tspan><tspan class="g">AGG</tspan>TCAACAA</text>
<text x="674.8" y="816.9" class="mono" font-size="12.2" textLength="28.5" lengthAdjust="spacingAndGlyphs" xml:space="preserve"><tspan font-weight="normal">Δ</tspan>17</text>
<text x="732.8" y="816.9" class="mono" font-size="12.2" textLength="19.0" lengthAdjust="spacingAndGlyphs" xml:space="preserve"><tspan font-weight="normal">×</tspan>2</text>
</g>
<rect x="0" y="806" width="775" height="15" fill="url(#botfade)"/>
</svg>
</body>
</html>
